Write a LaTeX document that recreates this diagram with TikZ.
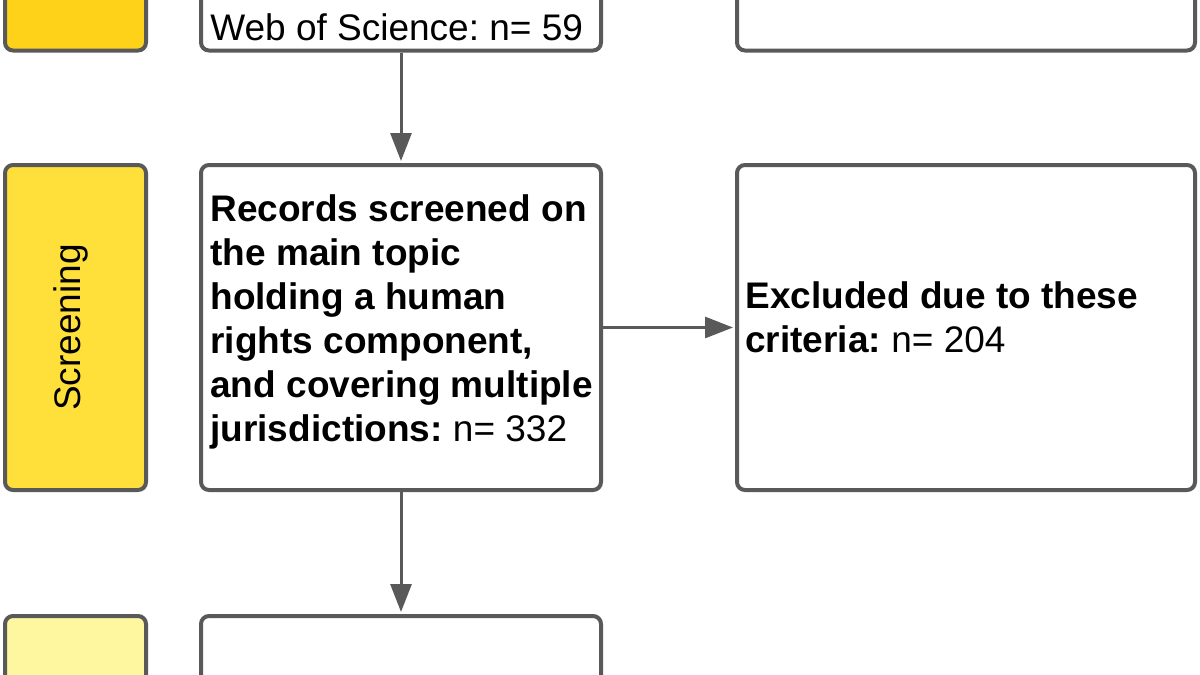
\documentclass[tikz,border=0pt]{standalone}
\usepackage{fontspec}
\setmainfont{Liberation Sans}
\usetikzlibrary{arrows.meta}
\definecolor{edge}{HTML}{595959}
\definecolor{gold}{HTML}{FFD21A}
\definecolor{midyellow}{HTML}{FFE03B}
\definecolor{paleyellow}{HTML}{FFF6A0}
\frenchspacing
\begin{document}
\begin{tikzpicture}[x=0.5pt,y=-0.5pt,
  box/.style={draw=edge, line width=2pt, rounded corners=4pt, fill=white, inner sep=0pt, minimum height=162.5pt},
  mainbox/.style={box, minimum width=200pt},
  sidebox/.style={box, minimum width=229pt},
  phase/.style={box, minimum width=70.5pt},
  txt/.style={inner sep=0pt, font=\fontsize{18.5pt}{22pt}\selectfont},
  arr/.style={draw=edge, line width=1.5pt, -{Triangle[length=14pt,width=10.5pt]}, shorten >=1pt}]
\useasboundingbox (0,0) rectangle (1200,675);
% row 1 (identification, cut off)
\node[phase, fill=gold] (p1) at (75.5,-112) {};
\node[mainbox] (a) at (401,-112) {};
\node[sidebox] (r1) at (966,-112) {};
\node[txt, anchor=base west] (wos) at (210,40) {Web of Science: n= 59};
% row 2 (screening)
\node[phase, fill=midyellow] (p2) at (75.5,327.5) {};
\node[txt, rotate=90] (scr) at (71,327.5) {Screening};
\node[mainbox] (b) at (401,327.5) {};
\node[txt, anchor=north west, align=left] (btext) at (210,194)
  {\bfseries Records screened on\\\bfseries the main topic\\\bfseries holding a human\\\bfseries rights component,\\\bfseries and covering multiple\\\bfseries jurisdictions: \mdseries n= 332};
\node[sidebox] (ex) at (966,327.5) {};
\node[txt, anchor=north west, align=left] (extext) at (745,281)
  {\bfseries Excluded due to these\\\bfseries criteria: \mdseries n= 204};
% row 3 (cut off)
\node[phase, fill=paleyellow] (p3) at (75.5,778.5) {};
\node[mainbox] (c) at (401,778.5) {};
% connectors
\draw[arr] (a.south) -- (b.north);
\draw[arr] (b.east) -- (ex.west);
\draw[arr] (b.south) -- (c.north);
\end{tikzpicture}
\end{document}
